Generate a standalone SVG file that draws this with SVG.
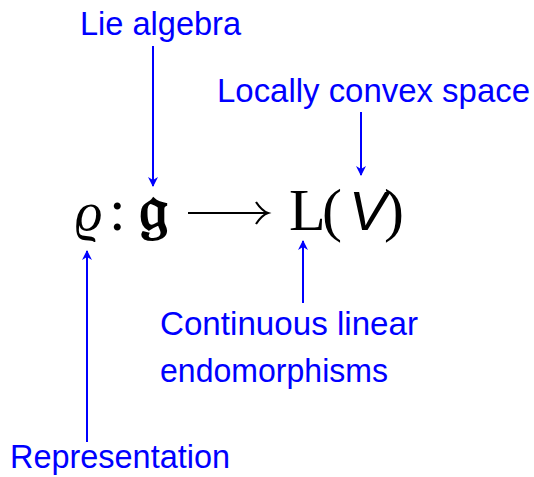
<svg xmlns="http://www.w3.org/2000/svg" width="534" height="477" viewBox="0 0 534 477">
<style>
.lbl{font-family:"Liberation Sans","DejaVu Sans",sans-serif;font-size:33px;fill:#0000ff}
.math{font-family:"Liberation Serif","DejaVu Serif",serif;font-size:60px;fill:#000}
.conn{stroke:#0000ff;stroke-width:2;fill:none}
</style>
<defs>
<marker id="ah" viewBox="0 0 10 10" refX="9" refY="5" markerWidth="5" markerHeight="5" orient="auto" markerUnits="strokeWidth">
<path d="M0,0 L10,5 L0,10 L3,5 Z" fill="#0000ff"/>
</marker>
</defs>
<rect width="534" height="477" fill="#fff"/>
<g id="formula">
<text class="math" y="230"><tspan x="75" font-style="italic" font-size="54">ϱ</tspan><tspan x="109">:</tspan><tspan x="139" font-family="DejaVu Serif, serif" font-size="66" font-weight="bold">𝔤</tspan><tspan x="289">L</tspan><tspan x="322">(</tspan><tspan x="349" font-style="italic" font-family="Liberation Sans, sans-serif" font-size="56">V</tspan><tspan x="384">)</tspan></text>
<path d="M188,213 L266,213 M256,202 Q262,211 268,213 Q262,215 256,224" stroke="#000" stroke-width="2.2" fill="none"/>
</g>
<g id="n-lie"><text class="lbl" x="80" y="35" textLength="161" lengthAdjust="spacingAndGlyphs">Lie algebra</text></g>
<g id="n-lcs"><text class="lbl" x="217" y="102" textLength="313" lengthAdjust="spacingAndGlyphs">Locally convex space</text></g>
<g id="n-cle"><text class="lbl" x="160" y="335" textLength="258" lengthAdjust="spacingAndGlyphs">Continuous linear</text><text class="lbl" x="160" y="382" textLength="228" lengthAdjust="spacingAndGlyphs">endomorphisms</text></g>
<g id="n-rep"><text class="lbl" x="10" y="468" textLength="220" lengthAdjust="spacingAndGlyphs">Representation</text></g>
<g id="connectors">
<line class="conn" x1="153" y1="46" x2="153" y2="186" marker-end="url(#ah)"/>
<line class="conn" x1="361" y1="112" x2="361" y2="175" marker-end="url(#ah)"/>
<line class="conn" x1="303" y1="303" x2="303" y2="241" marker-end="url(#ah)"/>
<line class="conn" x1="87" y1="442" x2="87" y2="251" marker-end="url(#ah)"/>
</g>
</svg>
